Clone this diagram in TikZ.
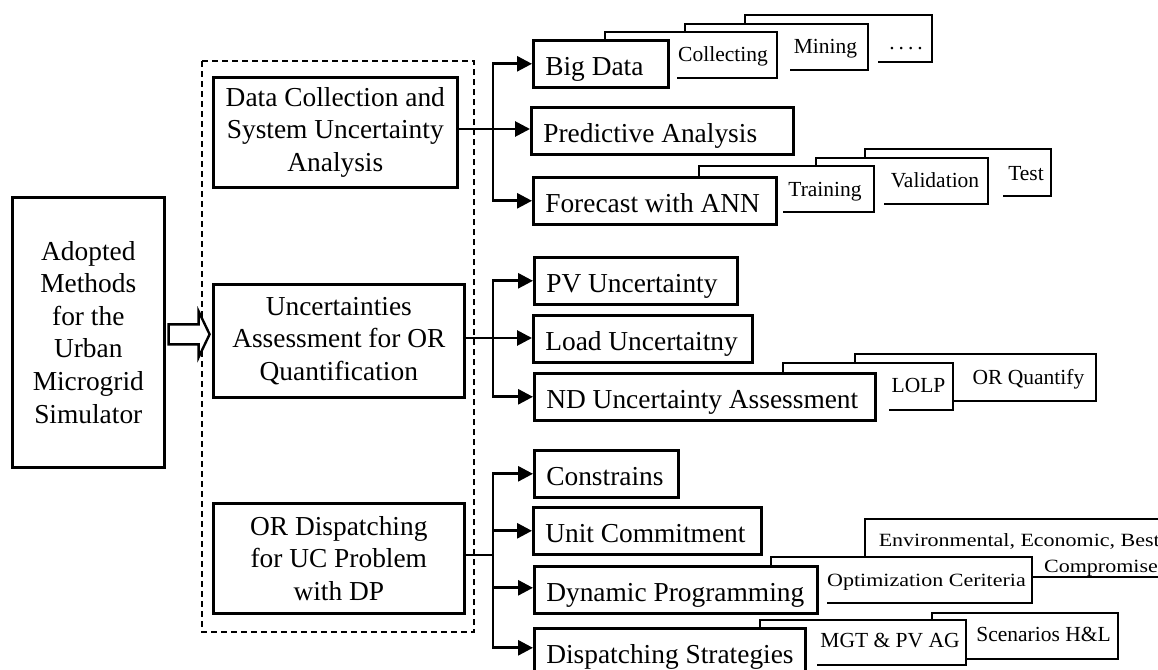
\documentclass[tikz,border=0pt]{standalone}
\usepackage{fontspec}
\usepackage{graphicx}
\setmainfont{Liberation Serif}
\usetikzlibrary{arrows.meta,calc}
\begin{document}
\begin{tikzpicture}[x=1pt,y=-1pt,
  lb/.style={draw,line width=2.6pt,fill=white,minimum height=47pt,inner xsep=12pt,inner ysep=0pt,
    text height=23pt,text depth=0pt,anchor=north west,font=\fontsize{27.4}{32.5}\selectfont},
  mb/.style={draw,line width=2.6pt,fill=white,align=center,inner sep=0pt,anchor=north west,
    font=\fontsize{27.4}{32.6}\selectfont},
  conn/.style={line width=2.8pt},
  arr/.style={conn,-{Triangle[length=15pt,width=15pt]}},
  sm/.style={font=\fontsize{21.5}{25}\selectfont,inner sep=0pt,anchor=base},
  smc/.style={font=\fontsize{22}{25}\selectfont,inner sep=0pt,anchor=base},
  back/.style={line width=2.5pt},
  grp/.style={line width=2pt,dash pattern=on 6pt off 4pt},
]
\useasboundingbox (0,0) rectangle (1158,669);

% left column
\node[mb,minimum width=152pt,minimum height=270pt] (adopt) at (11,196)
  {Adopted\\Methods\\for the\\Urban\\Microgrid\\Simulator};
\draw[grp] (202,61) rectangle (474,632);
\node[mb,minimum width=244pt,minimum height=110pt] (box1) at (212,76)
  {Data Collection and\\System Uncertainty\\Analysis};
\node[mb,minimum width=251pt,minimum height=113pt] (box2) at (212,283)
  {Uncertainties\\Assessment for OR\\Quantification};
\node[mb,minimum width=251pt,minimum height=110pt] (box3) at (212,502)
  {OR Dispatching\\for UC Problem\\with DP};

% hollow arrow
\coordinate (ha) at ($(adopt.east)+(3,2)$);
\draw[line width=2.4pt,fill=white,line join=miter]
  ($(ha)+(0,-10)$) -- ($(ha)+(30,-10)$) -- ($(ha)+(30,-23)$) -- ($(ha)+(41,0)$)
  -- ($(ha)+(30,23)$) -- ($(ha)+(30,10)$) -- ($(ha)+(0,10)$) -- cycle;

% stacked back boxes (group 1)
\draw[back] (605,39) -- (605,32) -- (777,32) -- (777,78) -- (677,78);
\draw[back] (685,32) -- (685,24) -- (868,24) -- (868,70) -- (790,70);
\draw[back] (745,24) -- (745,15) -- (932,15) -- (932,62) -- (878,62);
\node[sm] (tcoll) at (723,61) {Collecting};
\node[sm] (tmine) at (825.5,53) {Mining};
\node[sm] (tdots) at (906,50) {.\hspace{4pt}.\hspace{4pt}.\hspace{4pt}.};

\draw[back] (699,176) -- (699,166) -- (874,166) -- (874,212) -- (783,212);
\draw[back] (816,166) -- (816,158) -- (988,158) -- (988,204) -- (884,204);
\draw[back] (865,158) -- (865,149) -- (1051,149) -- (1051,196) -- (1003,196);
\node[sm] (ttrain) at (825,196) {Training};
\node[sm] (tvalid) at (935,187) {Validation};
\node[sm] (ttest) at (1026,180) {Test};

% group 2
\draw[back] (783,372) -- (783,363) -- (953,363) -- (953,410) -- (889,410);
\draw[back] (855,363) -- (855,354) -- (1096,354) -- (1096,401) -- (953,401);
\node[sm] (tlolp) at (918.5,392) {LOLP};
\node[sm] (torq) at (1028.5,384) {OR Quantify};

% group 3
\draw[back] (771,565) -- (771,557) -- (1032,557) -- (1032,603) -- (827,603);
\draw[back] (865,557) -- (865,519) -- (1170,519);
\draw[back] (1032,577) -- (1170,577);
\node[smc] (topt) at (926.5,586) {\scalebox{1}[0.85]{Optimization Ceriteria}};
\node[smc,anchor=base east] (tenv1) at (1160,546) {\scalebox{1}[0.85]{Environmental, Economic, Best}};
\node[smc,anchor=base east] (tenv2) at (1158,572) {\scalebox{1}[0.85]{Compromise}};

\draw[back] (760,627) -- (760,620) -- (966,620) -- (966,665) -- (817,665);
\draw[back] (932,620) -- (932,613) -- (1118,613) -- (1118,659) -- (966,659);
\node[sm] (tmgt) at (890,647) {MGT \& PV AG};
\node[sm] (tscen) at (1043.5,641) {Scenarios H\&L};

% branch boxes
\node[lb] (bigdata) at (532,39) {\makebox[111pt][l]{Big Data}};
\node[lb] (pred) at (530,106) {\makebox[238pt][l]{Predictive Analysis}};
\node[lb] (fore) at (532,176) {\makebox[219pt][l]{Forecast with ANN}};
\node[lb] (pv) at (533,256) {\makebox[179pt][l]{PV Uncertainty}};
\node[lb] (load) at (532,314) {\makebox[195pt][l]{Load Uncertaitny}};
\node[lb] (nd) at (533,372) {\makebox[317pt][l]{ND Uncertainty Assessment}};
\node[lb] (cons) at (533,449) {\makebox[120pt][l]{Constrains}};
\node[lb] (uc) at (532,506) {\makebox[204pt][l]{Unit Commitment}};
\node[lb] (dp) at (533,565) {\makebox[259pt][l]{Dynamic Programming}};
\node[lb] (disp) at (533,627) {\makebox[247pt][l]{Dispatching Strategies}};

% connectors
\coordinate (j1) at (493,129);
\coordinate (j2) at (493,338);
\coordinate (j3) at (493,555);
\draw[conn] (box1.east |- j1) -- (j1);
\draw[arr] (j1) |- (bigdata.west);
\draw[arr] (j1) -- (pred.west |- j1);
\draw[arr] (j1) |- (fore.west);
\draw[conn] (box2.east |- j2) -- (j2);
\draw[arr] (j2) |- (pv.west);
\draw[arr] (j2) -- (load.west |- j2);
\draw[arr] (j2) |- (nd.west);
\draw[conn] (box3.east |- j3) -- (j3);
\draw[arr] (j3) |- (cons.west);
\draw[arr] (j3) |- (uc.west);
\draw[arr] (j3) |- ([yshift=2pt]dp.west);
\draw[arr] (j3) |- ([yshift=4pt]disp.west);
\end{tikzpicture}
\end{document}
